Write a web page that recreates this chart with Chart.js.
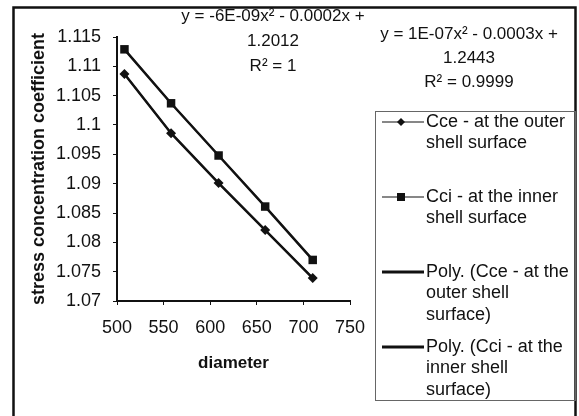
<!DOCTYPE html>
<html>
<head>
<meta charset="utf-8">
<script src="https://cdn.jsdelivr.net/npm/chart.js@4.4.0/dist/chart.umd.min.js"></script>
<style>
  html, body { margin: 0; padding: 0; background: #fff; }
  #wrap { width: 579px; height: 416px; position: relative; }
</style>
</head>
<body>
<div id="wrap"><canvas id="myChart" width="579" height="416"></canvas></div>
<script>
// values
const diameters = [508, 558, 609, 659, 710];
const cceValues = [1.1087, 1.0986, 1.0901, 1.0821, 1.0739];
const cciValues = [1.1129, 1.1037, 1.0948, 1.0861, 1.0770];
const xTicks = [500, 550, 600, 650, 700, 750];
const yTicks = [1.07, 1.075, 1.08, 1.085, 1.09, 1.095, 1.1, 1.105, 1.11, 1.115];
const xTitle = 'diameter';
const yTitle = 'stress concentration coefficient';
const legendLines = [
  ['Cce - at the outer', 'shell surface'],
  ['Cci - at the inner', 'shell surface'],
  ['Poly. (Cce - at the', 'outer shell', 'surface)'],
  ['Poly. (Cci - at the', 'inner shell', 'surface)']
];
const equationCce = ['y = -6E-09x² - 0.0002x +', '1.2012', 'R² = 1'];
const equationCci = ['y = 1E-07x² - 0.0003x +', '1.2443', 'R² = 0.9999'];

const FONT = "'Liberation Sans', Arial, sans-serif";
const INK = '#111';

function pts(vals) {
  return diameters.map((d, i) => ({ x: d, y: vals[i] }));
}

const frame = {
  id: 'frame',
  beforeDraw(chart) {
    const ctx = chart.ctx;
    ctx.save();
    ctx.fillStyle = '#fff';
    ctx.fillRect(0, 0, chart.width, chart.height);
    ctx.strokeStyle = INK;
    ctx.lineWidth = 2.5;
    ctx.strokeRect(13.5, 7.5, 562, 420);
    ctx.restore();
  },
  afterDraw(chart) {
    const ctx = chart.ctx;
    ctx.save();
    // legend box
    ctx.strokeStyle = '#666';
    ctx.lineWidth = 1;
    ctx.strokeRect(375.5, 111.5, 200, 289);

    ctx.font = '18px ' + FONT;
    ctx.fillStyle = INK;
    ctx.textBaseline = 'middle';
    ctx.textAlign = 'left';
    chart.data.datasets.forEach((ds, i) => {
      const y0 = 122 + i * 75;
      ctx.strokeStyle = INK;
      ctx.lineWidth = i < 2 ? 1.2 : 3;
      ctx.beginPath();
      ctx.moveTo(382, y0);
      ctx.lineTo(424, y0);
      ctx.stroke();
      if (ds.pointStyle === 'rectRot') {
        ctx.beginPath();
        ctx.moveTo(401, y0 - 4); ctx.lineTo(405, y0); ctx.lineTo(401, y0 + 4); ctx.lineTo(397, y0);
        ctx.closePath(); ctx.fill();
      } else if (ds.pointStyle === 'rect') {
        ctx.fillRect(397, y0 - 4, 8, 8);
      }
      legendLines[i].forEach((t, j) => ctx.fillText(t, 426, y0 + j * 21.5));
    });

    // trendline equations
    ctx.font = '17px ' + FONT;
    ctx.textAlign = 'center';
    equationCce.forEach((t, j) => ctx.fillText(t, 273, 16 + j * 25));
    equationCci.forEach((t, j) => ctx.fillText(t, 469, 34 + j * 24));
    ctx.restore();
  }
};

new Chart(document.getElementById('myChart').getContext('2d'), {
  type: 'line',
  data: {
    datasets: [{
      label: 'Cce - at the outer shell surface',
      data: pts(cceValues),
      borderColor: INK,
      backgroundColor: INK,
      borderWidth: 1.5,
      pointStyle: 'rectRot',
      pointRadius: 5,
      pointBorderWidth: 0
    }, {
      label: 'Cci - at the inner shell surface',
      data: pts(cciValues),
      borderColor: INK,
      backgroundColor: INK,
      borderWidth: 1.5,
      pointStyle: 'rect',
      pointRadius: 6,
      pointBorderWidth: 0
    }, {
      label: 'Poly. (Cce - at the outer shell surface)',
      data: pts(cceValues),
      borderColor: INK,
      borderWidth: 2.5,
      pointRadius: 0,
      pointStyle: false
    }, {
      label: 'Poly. (Cci - at the inner shell surface)',
      data: pts(cciValues),
      borderColor: INK,
      borderWidth: 2.5,
      pointRadius: 0,
      pointStyle: false
    }]
  },
  options: {
    responsive: false,
    animation: false,
    devicePixelRatio: 1,
    layout: { padding: { left: 28, top: 37, right: 229, bottom: 42 } },
    plugins: {
      legend: { display: false },
      tooltip: { enabled: false }
    },
    scales: {
      x: {
        type: 'linear',
        min: 500,
        max: 750,
        afterBuildTicks: s => { s.ticks = xTicks.map(v => ({ value: v })); },
        afterFit: s => { s.height = 73; },
        grid: { display: true, drawOnChartArea: false, drawTicks: true, tickLength: 4, color: INK },
        border: { display: true, color: INK, width: 2 },
        ticks: { color: INK, font: { family: FONT, size: 18 }, padding: 12, maxRotation: 0 },
        title: { display: true, text: xTitle, color: INK, font: { family: FONT, size: 17, weight: 'bold' }, padding: { top: 0, bottom: 0 } }
      },
      y: {
        type: 'linear',
        min: 1.07,
        max: 1.115,
        afterBuildTicks: s => { s.ticks = yTicks.map(v => ({ value: v })); },
        afterFit: s => { s.width = 89; },
        grid: { display: true, drawOnChartArea: false, drawTicks: true, tickLength: 4, color: INK },
        border: { display: true, color: INK, width: 2 },
        ticks: { color: INK, font: { family: FONT, size: 18 }, padding: 12, callback: v => String(+v.toFixed(3)) },
        title: { display: true, text: yTitle, color: INK, font: { family: FONT, size: 18, weight: 'bold' }, padding: { top: 0, bottom: 0 } }
      }
    }
  },
  plugins: [frame]
});
</script>
</body>
</html>
